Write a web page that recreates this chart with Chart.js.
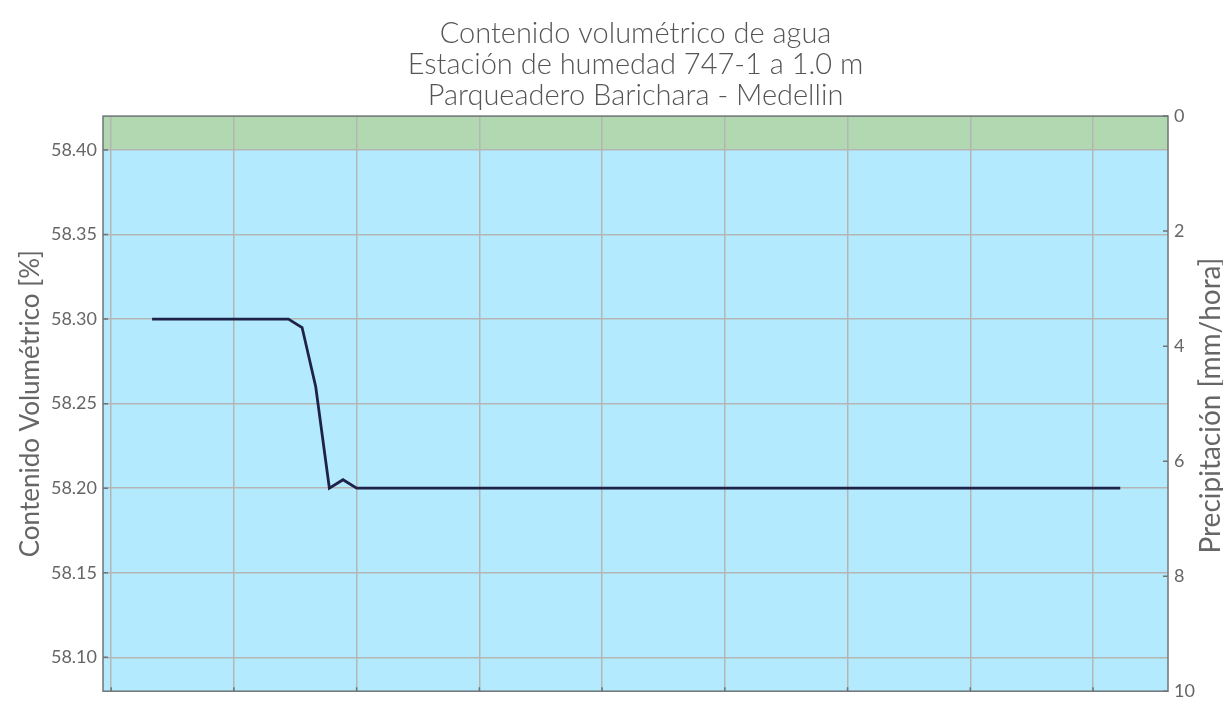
<!DOCTYPE html>
<html>
<head>
<meta charset="utf-8">
<script src="https://cdn.jsdelivr.net/npm/chart.js@4.4.1/dist/chart.umd.min.js"></script>
<style>
  html, body { margin: 0; padding: 0; background: #fff; }
  #wrap { width: 1223px; height: 708px; }
</style>
</head>
<body>
<div id="wrap"><canvas id="grafico-humedad"></canvas></div>
<script>
// --- datos ---
const tituloLineas = ["Contenido volumétrico de agua", "Estación de humedad 747-1 a 1.0 m", "Parqueadero Barichara - Medellin"];
const primerIndice = 3; // primera muestra de la serie
const humedad = [
  58.30, 58.30, 58.30, 58.30, 58.30, 58.30, 58.30, 58.30, 58.30, 58.30, 58.30,
  58.295, 58.26, 58.20, 58.205,
  58.20, 58.20, 58.20, 58.20, 58.20, 58.20, 58.20, 58.20, 58.20, 58.20,
  58.20, 58.20, 58.20, 58.20, 58.20, 58.20, 58.20, 58.20, 58.20, 58.20,
  58.20, 58.20, 58.20, 58.20, 58.20, 58.20, 58.20, 58.20, 58.20, 58.20,
  58.20, 58.20, 58.20, 58.20, 58.20, 58.20, 58.20, 58.20, 58.20, 58.20,
  58.20, 58.20, 58.20, 58.20, 58.20, 58.20, 58.20, 58.20, 58.20, 58.20,
  58.20, 58.20, 58.20, 58.20, 58.20, 58.20, 58.20
];
const ticksX = [0, 9, 18, 27, 36, 45, 54, 63, 72];
const ticksHumedad = [58.10, 58.15, 58.20, 58.25, 58.30, 58.35, 58.40];
const ticksPrecip = [0, 2, 4, 6, 8, 10];
const limiteSaturacion = 58.40; // por encima: franja verde

const colorLinea = '#1e2248';
const colorAgua = '#b3eafd';
const colorSaturado = '#b2d8b1';
const colorGrid = '#b5b5b5';
const colorBorde = '#6f7475';
const colorTexto = '#666666';
const fuente = "Lato, 'Open Sans', sans-serif";

// fondo azul / verde dibujado antes de la grilla
const fondoBandas = {
  id: 'fondoBandas',
  beforeDraw(chart) {
    const { ctx, chartArea: a, scales } = chart;
    const yLim = scales.y.getPixelForValue(limiteSaturacion);
    ctx.save();
    ctx.fillStyle = colorSaturado;
    ctx.fillRect(a.left, a.top, a.right - a.left, yLim - a.top);
    ctx.fillStyle = colorAgua;
    ctx.fillRect(a.left, yLim, a.right - a.left, a.bottom - yLim);
    ctx.restore();
  }
};

// marco, marcas hacia adentro y título del eje derecho
const marcoYTitulo = {
  id: 'marcoYTitulo',
  afterDraw(chart) {
    const { ctx, chartArea: a, scales } = chart;
    ctx.save();
    ctx.strokeStyle = colorBorde;
    ctx.lineWidth = 1.5;
    ctx.beginPath();
    ticksHumedad.forEach(v => {
      const y = scales.y.getPixelForValue(v);
      ctx.moveTo(a.left, y); ctx.lineTo(a.left + 5, y);
    });
    ticksPrecip.forEach(v => {
      const y = scales.y2.getPixelForValue(v);
      ctx.moveTo(a.right, y); ctx.lineTo(a.right - 5, y);
    });
    ticksX.forEach(v => {
      const x = scales.x.getPixelForValue(v);
      ctx.moveTo(x, a.bottom); ctx.lineTo(x, a.bottom - 4);
    });
    ctx.stroke();
    ctx.strokeRect(a.left, a.top, a.right - a.left, a.bottom - a.top);

    ctx.translate(1211, (a.top + a.bottom) / 2 + 2);
    ctx.rotate(-Math.PI / 2);
    ctx.fillStyle = colorTexto;
    ctx.font = "28px " + fuente;
    ctx.textAlign = 'center';
    ctx.textBaseline = 'middle';
    ctx.fillText("Precipitación [mm/hora]", 0, 0);
    ctx.restore();
  }
};

new Chart(document.getElementById('grafico-humedad'), {
  type: 'line',
  data: {
    datasets: [{
      label: 'Contenido volumétrico',
      data: humedad.map((v, i) => ({ x: primerIndice + i, y: v })),
      borderColor: colorLinea,
      borderWidth: 2.8,
      pointRadius: 0,
      tension: 0,
      fill: false,
      yAxisID: 'y'
    }]
  },
  options: {
    responsive: true,
    maintainAspectRatio: false,
    animation: false,
    layout: { padding: 0 },
    plugins: {
      legend: { display: false },
      tooltip: { enabled: false },
      title: {
        display: true,
        fullSize: false,
        text: tituloLineas,
        color: '#555555',
        font: { family: fuente, size: 29, weight: '300', lineHeight: 1.07 },
        padding: { top: 18, bottom: 5 }
      }
    },
    scales: {
      x: {
        type: 'linear',
        min: -0.6,
        max: 77.5,
        afterBuildTicks: s => { s.ticks = ticksX.map(v => ({ value: v })); },
        afterFit: s => { s.height = 13; },
        ticks: { display: false },
        grid: { color: colorGrid, lineWidth: 1.5, drawTicks: false },
        border: { display: false }
      },
      y: {
        position: 'left',
        min: 58.08,
        max: 58.42,
        afterBuildTicks: s => { s.ticks = ticksHumedad.map(v => ({ value: v })); },
        afterFit: s => { s.width = 103; },
        ticks: {
          color: colorTexto,
          padding: 6,
          font: { family: fuente, size: 18 },
          callback: v => v.toFixed(2)
        },
        grid: { color: colorGrid, lineWidth: 1.5, drawTicks: false },
        border: { display: false },
        title: {
          display: true,
          text: 'Contenido Volumétrico [%]',
          color: colorTexto,
          font: { family: fuente, size: 26 },
          padding: { top: 15, bottom: 0 }
        }
      },
      y2: {
        position: 'right',
        reverse: true,
        min: 0,
        max: 10,
        afterBuildTicks: s => { s.ticks = ticksPrecip.map(v => ({ value: v })); },
        afterFit: s => { s.width = 55; },
        ticks: {
          color: colorTexto,
          padding: 6,
          font: { family: fuente, size: 18 }
        },
        grid: { display: false, drawTicks: false },
        border: { display: false }
      }
    }
  },
  plugins: [fondoBandas, marcoYTitulo]
});
</script>
</body>
</html>
